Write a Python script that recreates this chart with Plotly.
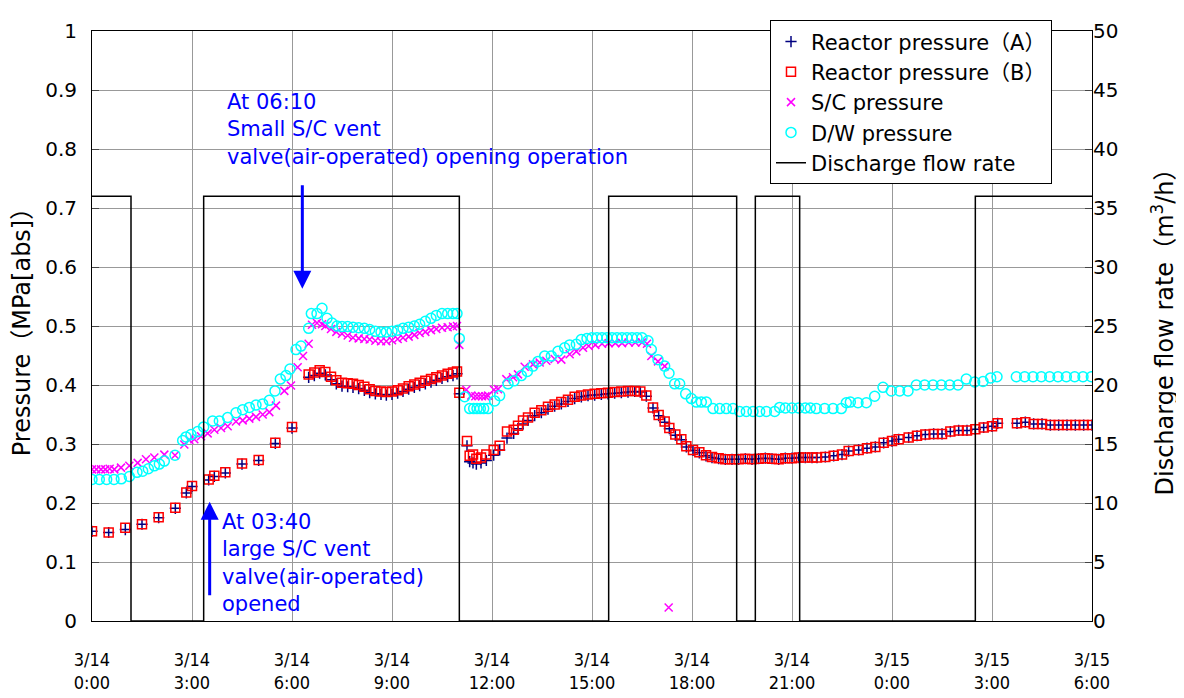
import plotly.graph_objects as go

# time axis: hours since 3/14 0:00
tick_hours = [0, 3, 6, 9, 12, 15, 18, 21, 24, 27, 30]
tick_labels = ["3/14<br>0:00", "3/14<br>3:00", "3/14<br>6:00", "3/14<br>9:00", "3/14<br>12:00",
               "3/14<br>15:00", "3/14<br>18:00", "3/14<br>21:00", "3/15<br>0:00", "3/15<br>3:00",
               "3/15<br>6:00"]
p_ticks = [0, 0.1, 0.2, 0.3, 0.4, 0.5, 0.6, 0.7, 0.8, 0.9, 1.0]
p_labels = ["0", "0.1", "0.2", "0.3", "0.4", "0.5", "0.6", "0.7", "0.8", "0.9", "1"]

# Reactor pressure (A) and (B), MPa[abs]
t_reactor = [0.0, 0.5, 1.0, 1.5, 2.0, 2.5, 2.83, 3.0, 3.5, 3.67, 4.0, 4.5, 5.0, 5.5, 6.0,
             6.5, 6.67, 6.83, 7.0, 7.17, 7.33, 7.5, 7.67, 7.83, 8.0, 8.17, 8.33, 8.5, 8.67,
             8.83, 9.0, 9.17, 9.33, 9.5, 9.67, 9.83, 10.0, 10.17, 10.33, 10.5, 10.67, 10.83, 10.95,
             11.02, 11.25, 11.33, 11.43, 11.53, 11.67, 11.83, 12.05, 12.23, 12.45, 12.65, 12.78,
             12.93, 13.08, 13.28, 13.48, 13.68, 13.88, 14.08, 14.28, 14.48, 14.68, 14.88, 15.08,
             15.28, 15.48, 15.68, 15.88, 16.08, 16.28, 16.45, 16.63, 16.83, 17.0, 17.18, 17.32,
             17.5, 17.68, 17.83, 18.03, 18.22, 18.42, 18.6, 18.8, 19.0, 19.2, 19.4, 19.6, 19.8,
             20.0, 20.2, 20.4, 20.6, 20.8, 21.0, 21.2, 21.4, 21.6, 21.75, 22.0, 22.25, 22.5, 22.7,
             23.0, 23.25, 23.5, 23.75, 24.0, 24.2, 24.5, 24.75, 25.0, 25.25, 25.5, 25.75, 26.0,
             26.25, 26.5, 26.75, 27.0, 27.17, 27.75, 28.0, 28.25, 28.5, 28.75, 29.0, 29.25, 29.5,
             29.75, 30.0]
reactor_b = [0.152, 0.150, 0.158, 0.164, 0.176, 0.192, 0.218, 0.229, 0.240, 0.246, 0.252, 0.267, 0.273, 0.302, 0.329,
             0.418, 0.421, 0.425, 0.422, 0.414, 0.408, 0.404, 0.403, 0.402, 0.400, 0.397, 0.393, 0.390, 0.389,
             0.388, 0.389, 0.391, 0.394, 0.398, 0.401, 0.404, 0.407, 0.410, 0.413, 0.416, 0.419, 0.421, 0.423,
             0.387, 0.305, 0.280, 0.282, 0.275, 0.277, 0.282, 0.290, 0.297, 0.321, 0.324, 0.331,
             0.340, 0.345, 0.353, 0.357, 0.363, 0.367, 0.371, 0.375, 0.380, 0.382, 0.384, 0.385,
             0.386, 0.387, 0.388, 0.389, 0.390, 0.390, 0.389, 0.382, 0.362, 0.349, 0.338, 0.327,
             0.316, 0.308, 0.296, 0.290, 0.286, 0.281, 0.278, 0.276, 0.274, 0.274, 0.274, 0.275, 0.274,
             0.275, 0.276, 0.275, 0.274, 0.276, 0.276, 0.277, 0.277, 0.277, 0.277, 0.278, 0.280, 0.282, 0.288,
             0.290, 0.293, 0.295, 0.302, 0.305, 0.308, 0.311, 0.314, 0.316, 0.317, 0.317, 0.321, 0.323,
             0.323, 0.325, 0.328, 0.330, 0.335, 0.335, 0.337, 0.334, 0.334, 0.332, 0.332, 0.332, 0.332,
             0.332, 0.332]
reactor_a = [0.152, 0.150, 0.155, 0.164, 0.175, 0.191, 0.217, 0.228, 0.239, 0.245, 0.251, 0.266, 0.272, 0.301, 0.327,
             0.413, 0.416, 0.420, 0.417, 0.409, 0.402, 0.398, 0.397, 0.396, 0.394, 0.391, 0.387, 0.385, 0.384,
             0.383, 0.384, 0.386, 0.389, 0.393, 0.396, 0.399, 0.402, 0.405, 0.408, 0.411, 0.414, 0.416, 0.419,
             0.385, 0.297, 0.270, 0.268, 0.266, 0.268, 0.272, 0.281, 0.290, 0.310, 0.318, 0.326,
             0.334, 0.340, 0.348, 0.353, 0.359, 0.364, 0.368, 0.372, 0.377, 0.380, 0.382, 0.383,
             0.384, 0.385, 0.386, 0.387, 0.388, 0.389, 0.388, 0.381, 0.361, 0.348, 0.337, 0.326,
             0.315, 0.307, 0.295, 0.289, 0.285, 0.280, 0.277, 0.275, 0.274, 0.274, 0.274, 0.275, 0.274,
             0.275, 0.276, 0.275, 0.274, 0.276, 0.276, 0.277, 0.277, 0.277, 0.277, 0.278, 0.280, 0.282, 0.288,
             0.290, 0.293, 0.295, 0.302, 0.305, 0.308, 0.311, 0.314, 0.316, 0.317, 0.317, 0.321, 0.323,
             0.323, 0.325, 0.328, 0.330, 0.335, 0.335, 0.337, 0.334, 0.334, 0.332, 0.332, 0.332, 0.332,
             0.332, 0.332]

# S/C pressure
t_sc = [0.0, 0.13, 0.27, 0.4, 0.53, 0.67, 0.87, 1.12, 1.37, 1.62, 1.87, 2.17, 2.49, 2.77, 2.92,
        3.07, 3.27, 3.47, 3.67, 3.87, 4.07, 4.32, 4.52, 4.72, 4.92, 5.12, 5.32, 5.52, 5.77, 5.97,
        6.17, 6.33, 6.5, 6.6, 6.75, 6.9, 7.0, 7.17, 7.33, 7.5, 7.67, 7.83, 8.0, 8.17, 8.33,
        8.5, 8.67, 8.83, 9.0, 9.17, 9.33, 9.5, 9.67, 9.83, 10.0, 10.17, 10.33, 10.5, 10.67, 10.83,
        10.95, 11.02, 11.23, 11.38, 11.5, 11.6, 11.7, 11.8, 11.88, 12.06, 12.18, 12.43, 12.63, 12.78,
        12.98, 13.23, 13.43, 13.63, 13.88, 14.08, 14.33, 14.53, 14.73, 14.9, 15.1, 15.3, 15.5, 15.7,
        15.9, 16.1, 16.3, 16.5, 16.65, 16.78, 16.98, 17.18, 17.3]
sc_pressure = [0.257, 0.257, 0.257, 0.257, 0.258, 0.257, 0.260, 0.263, 0.268, 0.274, 0.277, 0.282, 0.281, 0.299, 0.307,
               0.308, 0.313, 0.318, 0.324, 0.327, 0.330, 0.338, 0.340, 0.343, 0.346, 0.350, 0.354, 0.365, 0.390, 0.399,
               0.430, 0.449, 0.470, 0.502, 0.505, 0.503, 0.500, 0.495, 0.490, 0.487, 0.484, 0.480, 0.479, 0.478, 0.477,
               0.475, 0.474, 0.474, 0.476, 0.478, 0.480, 0.482, 0.485, 0.488, 0.490, 0.493, 0.495, 0.497, 0.498, 0.499,
               0.500, 0.468, 0.392, 0.382, 0.381, 0.381, 0.381, 0.381, 0.382, 0.392, 0.393, 0.410, 0.413, 0.418,
               0.431, 0.435, 0.438, 0.441, 0.444, 0.443, 0.452, 0.457, 0.463, 0.466, 0.468, 0.470, 0.471, 0.471,
               0.471, 0.472, 0.472, 0.472, 0.470, 0.449, 0.440, 0.432, 0.023]

# D/W pressure
t_dw = [0.0, 0.22, 0.44, 0.66, 0.88, 1.12, 1.35, 1.52, 1.69, 1.87, 2.02, 2.17, 2.49, 2.72, 2.82,
        2.97, 3.17, 3.35, 3.62, 3.82, 4.07, 4.32, 4.52, 4.72, 4.92, 5.12, 5.32, 5.49, 5.65, 5.82,
        5.94, 6.12, 6.27, 6.5, 6.58, 6.75, 6.9, 7.05, 7.2, 7.35, 7.5, 7.67, 7.83, 8.0, 8.17,
        8.33, 8.5, 8.67, 8.83, 9.0, 9.17, 9.33, 9.5, 9.67, 9.83, 10.0, 10.17, 10.33, 10.5, 10.67,
        10.83, 10.95, 11.02, 11.18, 11.33, 11.45, 11.55, 11.65, 11.75, 11.88, 12.08, 12.23, 12.48, 12.66, 12.88,
        13.06, 13.23, 13.38, 13.58, 13.78, 13.98, 14.18, 14.33, 14.53, 14.68, 14.85, 15.0, 15.15, 15.3, 15.45,
        15.6, 15.75, 15.9, 16.05, 16.2, 16.35, 16.5, 16.68, 16.78, 16.98, 17.18, 17.31, 17.48, 17.63, 17.81,
        17.98, 18.13, 18.28, 18.43, 18.63, 18.83, 19.03, 19.23, 19.43, 19.63, 19.83, 20.03, 20.23, 20.48, 20.63,
        20.8, 21.0, 21.2, 21.4, 21.55, 21.73, 21.98, 22.23, 22.48, 22.63, 22.75, 22.98, 23.23, 23.48, 23.73,
        23.98, 24.23, 24.48, 24.73, 24.98, 25.23, 25.48, 25.73, 25.98, 26.23, 26.48, 26.73, 26.96, 27.15, 27.73,
        27.98, 28.23, 28.48, 28.73, 28.98, 29.23, 29.48, 29.73, 29.98]
dw_pressure = [0.240, 0.240, 0.240, 0.240, 0.241, 0.245, 0.252, 0.254, 0.258, 0.263, 0.266, 0.271, 0.281, 0.306, 0.312,
               0.316, 0.321, 0.329, 0.339, 0.339, 0.345, 0.353, 0.358, 0.362, 0.366, 0.368, 0.374, 0.390, 0.410, 0.416,
               0.427, 0.460, 0.466, 0.496, 0.521, 0.521, 0.530, 0.513, 0.505, 0.500, 0.499, 0.499, 0.498, 0.497, 0.496,
               0.494, 0.491, 0.490, 0.490, 0.491, 0.493, 0.496, 0.498, 0.500, 0.503, 0.508, 0.513, 0.518, 0.521, 0.521,
               0.521, 0.521, 0.479, 0.380, 0.360, 0.360, 0.360, 0.360, 0.360, 0.360, 0.373, 0.382, 0.402, 0.407, 0.416,
               0.423, 0.432, 0.440, 0.449, 0.449, 0.457, 0.463, 0.468, 0.469, 0.477, 0.479, 0.480, 0.480, 0.480, 0.480,
               0.480, 0.480, 0.480, 0.480, 0.480, 0.480, 0.480, 0.475, 0.460, 0.443, 0.432, 0.420, 0.402, 0.402, 0.385,
               0.377, 0.371, 0.371, 0.371, 0.360, 0.360, 0.360, 0.360, 0.355, 0.355, 0.355, 0.355, 0.355, 0.355, 0.362,
               0.361, 0.361, 0.361, 0.361, 0.361, 0.360, 0.360, 0.360, 0.360, 0.370, 0.371, 0.370, 0.370, 0.381, 0.396,
               0.390, 0.390, 0.390, 0.400, 0.400, 0.400, 0.400, 0.400, 0.400, 0.410, 0.405, 0.406, 0.412, 0.414, 0.414,
               0.414, 0.414, 0.414, 0.414, 0.414, 0.414, 0.414, 0.414, 0.414]

# Discharge flow rate (m3/h), step changes
t_flow = [0.0, 1.17, 3.35, 11.02, 15.5, 19.34, 19.9, 21.23, 26.5, 30.0]
flow_rate = [36, 0, 36, 0, 36, 0, 36, 0, 36, 36]
flow_ticks = [0, 5, 10, 15, 20, 25, 30, 35, 40, 45, 50]

assert len(t_reactor) == len(reactor_a) == len(reactor_b)
assert len(t_sc) == len(sc_pressure)
assert len(t_dw) == len(dw_pressure)

FONT = "DejaVu Sans, Noto Sans CJK JP, sans-serif"
NARROW = "Liberation Sans Narrow, DejaVu Sans Condensed, Liberation Sans, sans-serif"
GRID = "#999999"

fig = go.Figure()

fig.add_trace(go.Scatter(
    x=t_reactor, y=reactor_a, mode="markers", name="Reactor pressure（A）",
    marker=dict(symbol="cross-thin-open", size=8, color="#000080", line=dict(color="#000080", width=1.5)),
))
fig.add_trace(go.Scatter(
    x=t_reactor, y=reactor_b, mode="markers", name="Reactor pressure（B）",
    marker=dict(symbol="square-open", size=9, color="#ff0000", line=dict(width=1.5)),
))
fig.add_trace(go.Scatter(
    x=t_sc, y=sc_pressure, mode="markers", name="S/C pressure",
    marker=dict(symbol="x-thin-open", size=8, color="#ff00ff", line=dict(color="#ff00ff", width=1.5)),
))
fig.add_trace(go.Scatter(
    x=t_dw, y=dw_pressure, mode="markers", name="D/W pressure",
    marker=dict(symbol="circle-open", size=10, color="#00ffff", line=dict(width=1.5)),
))
fig.add_trace(go.Scatter(
    x=t_flow, y=flow_rate, mode="lines", name="Discharge flow rate", yaxis="y2",
    line=dict(color="black", width=1.5, shape="hv"),
))

# vent valve annotations
fig.add_annotation(x=6.31, y=0.563, ax=0, ay=-105, text="", showarrow=True,
                   arrowhead=2, arrowsize=1.2, arrowwidth=3, arrowcolor="#0000ff")
fig.add_annotation(x=4.0, y=0.904, xanchor="left", yanchor="top", align="left", showarrow=False,
                   text="At 06:10<br>Small S/C vent<br>valve(air-operated) opening operation",
                   font=dict(size=21, color="#0000ff"))
fig.add_annotation(x=3.53, y=0.202, ax=0, ay=95, text="", showarrow=True,
                   arrowhead=2, arrowsize=1.2, arrowwidth=3, arrowcolor="#0000ff")
fig.add_annotation(x=3.84, y=0.192, xanchor="left", yanchor="top", align="left", showarrow=False,
                   text="At 03:40<br>large S/C vent<br>valve(air-operated)<br>opened",
                   font=dict(size=21, color="#0000ff"))

# the page body has an 8px margin, so the figure is 8px smaller than the window
fig.update_layout(
    width=1176, height=690,
    margin=dict(l=84, r=92, t=13, b=77),
    paper_bgcolor="white", plot_bgcolor="white",
    font=dict(family=FONT, size=20, color="black"),
    showlegend=True,
    legend=dict(x=0.678, y=1.018, xanchor="left", yanchor="top",
                bgcolor="white", bordercolor="black", borderwidth=1,
                font=dict(size=21), tracegroupgap=0),
    xaxis=dict(range=[0, 30], tickvals=tick_hours, ticktext=tick_labels,
               showgrid=True, gridcolor=GRID, gridwidth=1,
               showline=True, linecolor="black", linewidth=1, mirror=True,
               ticks="", tickfont=dict(family=NARROW, size=18), ticklabelstandoff=22,
               zeroline=False, automargin=False),
    yaxis=dict(range=[0, 1], tickvals=p_ticks, ticktext=p_labels,
               title=dict(text="Pressure（MPa[abs]）", standoff=12),
               showgrid=True, gridcolor=GRID, gridwidth=1,
               showline=True, linecolor="black", linewidth=1, mirror=True,
               ticks="inside", ticklen=7, ticklabelstandoff=10,
               zeroline=False, automargin=False),
    yaxis2=dict(range=[0, 50], tickvals=flow_ticks, overlaying="y", side="right",
                title=dict(text="Discharge flow rate（m<sup>3</sup>/h）", standoff=38),
                showgrid=False, ticks="inside", ticklen=7, zeroline=False, automargin=False),
)

fig.write_html("out.html")
